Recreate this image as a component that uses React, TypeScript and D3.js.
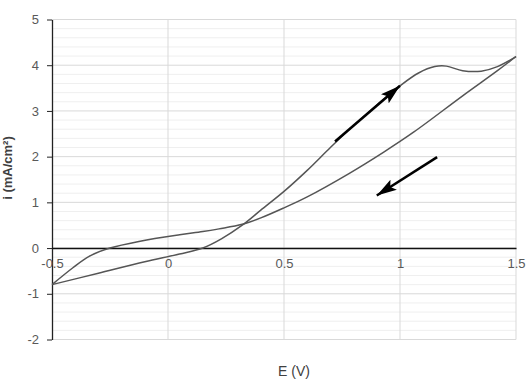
import React, { useRef, useEffect } from "react";
import * as d3 from "d3";

// forward scan (anodic)
const fwdE = [-0.5, -0.3, -0.1, 0.05, 0.15, 0.23, 0.32, 0.4, 0.5, 0.6, 0.7, 0.8, 0.9, 1.0, 1.08, 1.15, 1.2, 1.27, 1.35, 1.42, 1.5];
const fwdI = [-0.8, -0.55, -0.3, -0.13, 0.0, 0.2, 0.5, 0.83, 1.24, 1.7, 2.2, 2.68, 3.13, 3.55, 3.83, 3.97, 3.98, 3.88, 3.87, 3.97, 4.19];

// reverse scan (cathodic)
const revE = [1.5, 1.42, 1.27, 1.06, 0.93, 0.78, 0.6, 0.5, 0.4, 0.32, 0.22, 0.15, 0.05, -0.12, -0.25, -0.34, -0.41, -0.5];
const revI = [4.19, 3.88, 3.33, 2.54, 2.1, 1.63, 1.12, 0.88, 0.66, 0.52, 0.42, 0.36, 0.29, 0.15, 0.0, -0.18, -0.43, -0.8];

// scan direction arrows: [E0, i0, E1, i1]
const arrows = [
  [0.72, 2.33, 1.0, 3.55],
  [1.16, 1.99, 0.9, 1.15],
];

const xTicks = [-0.5, 0, 0.5, 1, 1.5];
const yTicks = [-2, -1, 0, 1, 2, 3, 4, 5];

const App = () => {
  const ref = useRef(null);

  useEffect(() => {
    const svg = d3.select(ref.current);
    svg.selectAll("*").remove();

    const x = d3.scaleLinear().domain([-0.5, 1.5]).range([52, 516]);
    const y = d3.scaleLinear().domain([-2, 5]).range([339.5, 19.5]);
    const font = "'Liberation Sans', Arial, sans-serif";

    // minor horizontal grid
    svg
      .append("g")
      .selectAll("line")
      .data(d3.range(-2, 5.001, 0.2).filter((v) => Math.abs(v - Math.round(v)) > 0.01))
      .join("line")
      .attr("x1", x(-0.5))
      .attr("x2", x(1.5))
      .attr("y1", (d) => y(d))
      .attr("y2", (d) => y(d))
      .attr("stroke", "#efefef")
      .attr("stroke-width", 1);

    // major grid
    svg
      .append("g")
      .selectAll("line")
      .data(yTicks)
      .join("line")
      .attr("x1", x(-0.5))
      .attr("x2", x(1.5))
      .attr("y1", (d) => y(d))
      .attr("y2", (d) => y(d))
      .attr("stroke", "#d9d9d9");

    svg
      .append("g")
      .selectAll("line")
      .data(xTicks.slice(1))
      .join("line")
      .attr("x1", (d) => x(d))
      .attr("x2", (d) => x(d))
      .attr("y1", y(5))
      .attr("y2", y(-2))
      .attr("stroke", "#d9d9d9");

    // y axis
    const yAxis = svg
      .append("g")
      .attr("transform", `translate(${x(-0.5)},0)`)
      .call(
        d3
          .axisLeft(y)
          .tickValues(yTicks)
          .tickSize(5)
          .tickSizeOuter(0)
          .tickPadding(8)
          .tickFormat((d) => String(d))
      );
    yAxis.select(".domain").attr("stroke", "#222").attr("stroke-width", 1.3);
    yAxis.selectAll(".tick line").attr("stroke", "#222");
    yAxis.selectAll("text").attr("fill", "#595959").attr("font-size", 13).attr("font-family", font);

    // x axis at i = 0
    const xAxis = svg
      .append("g")
      .attr("transform", `translate(0,${y(0)})`)
      .call(
        d3
          .axisBottom(x)
          .tickValues(xTicks)
          .tickSize(0)
          .tickPadding(11)
          .tickFormat((d) => String(d))
      );
    xAxis.select(".domain").attr("stroke", "#111").attr("stroke-width", 1.6);
    xAxis.selectAll("text").attr("fill", "#595959").attr("font-size", 13).attr("font-family", font);

    const line = d3
      .line()
      .x((d) => x(d[0]))
      .y((d) => y(d[1]))
      .curve(d3.curveCatmullRom.alpha(0.5));

    [
      [fwdE, fwdI],
      [revE, revI],
    ].forEach(([es, is]) => {
      const pts = es.map((e, k) => [e, is[k]]).sort((a, b) => a[0] - b[0]);
      svg
        .append("path")
        .datum(pts)
        .attr("fill", "none")
        .attr("stroke", "#555")
        .attr("stroke-width", 1.5)
        .attr("d", line);
    });

    // arrowheads
    svg
      .append("defs")
      .append("marker")
      .attr("id", "head")
      .attr("viewBox", "0 0 20 12")
      .attr("refX", 20)
      .attr("refY", 6)
      .attr("markerWidth", 20)
      .attr("markerHeight", 12)
      .attr("markerUnits", "userSpaceOnUse")
      .attr("orient", "auto")
      .append("path")
      .attr("d", "M0,0 L20,6 L0,12 L4,6 Z")
      .attr("fill", "#000");

    svg
      .append("g")
      .selectAll("line")
      .data(arrows)
      .join("line")
      .attr("x1", (d) => x(d[0]))
      .attr("y1", (d) => y(d[1]))
      .attr("x2", (d) => x(d[2]))
      .attr("y2", (d) => y(d[3]))
      .attr("stroke", "#000")
      .attr("stroke-width", 2.5)
      .attr("marker-end", "url(#head)");

    // titles
    svg
      .append("text")
      .attr("x", 294)
      .attr("y", 376)
      .attr("text-anchor", "middle")
      .attr("font-family", font)
      .attr("font-size", 14)
      .attr("fill", "#404040")
      .text("E (V)");

    svg
      .append("text")
      .attr("transform", "translate(12,168) rotate(-90)")
      .attr("text-anchor", "middle")
      .attr("font-family", font)
      .attr("font-size", 13)
      .attr("font-weight", "bold")
      .attr("fill", "#404040")
      .text("i (mA/cm²)");
  }, []);

  return (
    <svg
      ref={ref}
      width={527}
      height={383}
      style={{ position: "absolute", left: 0, top: 0, background: "#fff" }}
    />
  );
};

export default App;
